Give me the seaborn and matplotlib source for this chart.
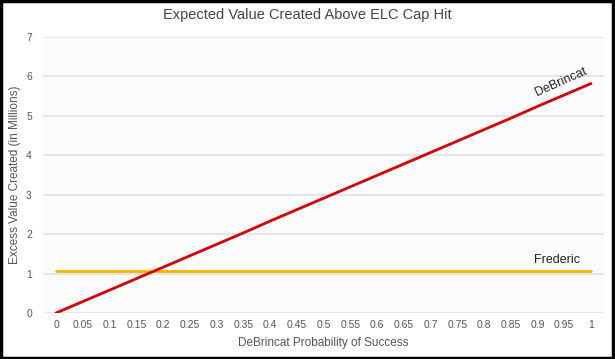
import numpy as np
import pandas as pd
import seaborn as sns
import matplotlib.pyplot as plt
from matplotlib.patches import Rectangle

# values
prob = [0, 0.05, 0.1, 0.15, 0.2, 0.25, 0.3, 0.35, 0.4, 0.45, 0.5,
        0.55, 0.6, 0.65, 0.7, 0.75, 0.8, 0.85, 0.9, 0.95, 1]
debrincat = [0, 0.29, 0.58, 0.87, 1.16, 1.45, 1.74, 2.03, 2.33, 2.62, 2.91,
             3.20, 3.49, 3.78, 4.07, 4.36, 4.65, 4.94, 5.24, 5.53, 5.82]
frederic = [1.07] * len(prob)
tick_labels = ["0", "0.05", "0.1", "0.15", "0.2", "0.25", "0.3", "0.35", "0.4", "0.45", "0.5",
               "0.55", "0.6", "0.65", "0.7", "0.75", "0.8", "0.85", "0.9", "0.95", "1"]

df = pd.DataFrame({"prob": prob, "DeBrincat": debrincat, "Frederic": frederic})

sns.set_style("white")
plt.rcParams['font.family'] = ['Liberation Sans', 'DejaVu Sans']

fig = plt.figure(figsize=(6.15, 3.59), dpi=100)
ax = fig.add_axes([43 / 615, 1 - 313 / 359, (604 - 43) / 615, (313 - 37) / 359])
ax.set_facecolor('#fbfbfb')

sns.lineplot(data=df, x="prob", y="Frederic", color='#f7b500', linewidth=2, ax=ax)
sns.lineplot(data=df, x="prob", y="DeBrincat", color='#d80000', linewidth=2, ax=ax)

ax.set_xlim(-0.0243, 1.0243)
ax.set_ylim(0, 7)
ax.set_xticks(prob)
ax.set_xticklabels(tick_labels)
ax.set_yticks(range(8))
ax.yaxis.grid(True, color='#e6e6e6', linewidth=1.5)
ax.set_axisbelow(True)
for s in ax.spines.values():
    s.set_visible(False)
ax.tick_params(axis='both', length=0, labelsize=7.5, colors='#555555')
ax.tick_params(axis='x', pad=5)
ax.tick_params(axis='y', pad=8)

ax.set_xlabel("DeBrincat Probability of Success", fontsize=8.5, color='#555555', labelpad=5)
ax.set_ylabel("Excess Value Created (in Millions)", fontsize=8.5, color='#555555')
ax.yaxis.set_label_coords(-0.04, 0.5)

ax.text(0.995, 6.0, "DeBrincat", fontsize=9, color='#222222', rotation=24,
        ha='right', va='bottom', rotation_mode='anchor')
ax.text(0.98, 1.2, "Frederic", fontsize=9, color='#222222', ha='right', va='bottom')

fig.text(0.5, 1 - 15 / 359, "Expected Value Created Above ELC Cap Hit", fontsize=10.5,
         color='#444444', ha='center', va='center')

# screenshot frame
fig.patches.append(Rectangle((0.002, 0.003), 0.994, 0.994, transform=fig.transFigure,
                             fill=False, edgecolor='black', linewidth=2.5))

fig.savefig("out.png", dpi=100)
